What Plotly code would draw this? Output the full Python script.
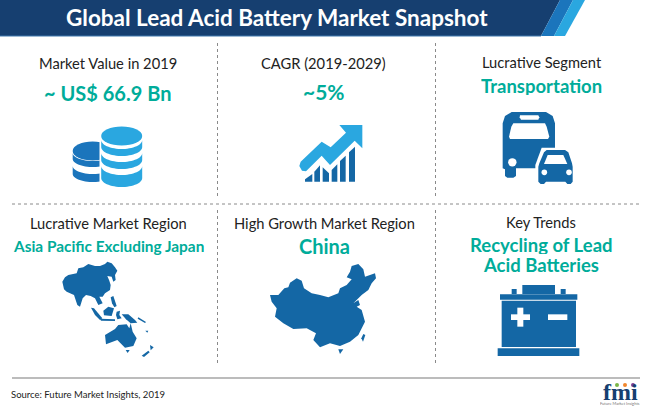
import numpy as np
import plotly.graph_objects as go

title = 'Global Lead Acid Battery Market Snapshot'
headings = ['Market Value in 2019', 'CAGR (2019-2029)', 'Lucrative Segment',
            'Lucrative Market Region', 'High Growth Market Region', 'Key Trends']
values = ['~ US$ 66.9 Bn', '~5%', 'Transportation',
          'Asia Pacific Excluding Japan', 'China', 'Recycling of Lead', 'Acid Batteries']
source = 'Source: Future Market Insights, 2019'

NAVY = '#163f70'
BLUE = '#1467a5'
MID = '#1b75bc'
SKY = '#2aa7e0'
TEAL = '#00ac9a'
TXT = '#222222'
FONT = 'Lato'

fig = go.Figure()
shapes = []
notes = []


def poly(pts, color, ox=0, oy=0, k=1.0, line=None):
    d = 'M' + ' L'.join(f'{ox + x * k:.2f},{oy + y * k:.2f}' for x, y in pts) + ' Z'
    shapes.append(dict(type='path', path=d, fillcolor=color, layer='above',
                       line=dict(width=0) if line is None else line))


def rect(x0, y0, x1, y1, color):
    shapes.append(dict(type='rect', x0=x0, y0=y0, x1=x1, y1=y1, fillcolor=color,
                       line=dict(width=0), layer='above'))


def ellipse(cx, cy, rx, ry, color):
    shapes.append(dict(type='circle', x0=cx - rx, y0=cy - ry, x1=cx + rx, y1=cy + ry,
                       fillcolor=color, line=dict(width=0), layer='above'))


def seg(x0, y0, x1, y1, color, width, dash='solid'):
    shapes.append(dict(type='line', x0=x0, y0=y0, x1=x1, y1=y1, layer='above',
                       line=dict(color=color, width=width, dash=dash)))


def band(cx, rx, ry, top, bottom, color):
    # one slice of a coin stack, curved along top and bottom
    t = np.linspace(0, np.pi, 30)
    low = [(cx + rx * np.cos(a), bottom + ry * np.sin(a)) for a in t]
    up = [(cx - rx * np.cos(a), top + ry * np.sin(a)) for a in t]
    poly(low + up, color)


def text(x, y, s, size, color=TXT, weight=400, anchor='center', family=FONT, height=None):
    notes.append(dict(x=x, y=y, text=s, showarrow=False, xanchor=anchor, yanchor='middle',
                      height=height, borderpad=0,
                      font=dict(family=family, size=size, color=color, weight=weight)))


# header
poly([(0, 0), (560, 0), (541, 36), (0, 36)], NAVY)
poly([(560, 0), (573, 0), (554, 36), (541, 36)], MID)
poly([(573, 0), (585, 0), (565, 36), (554, 36)], SKY)
seg(0, 36, 541, 36, '#3f78ad', 1)
text(277, 17, title, 22.5, 'white', 700)

# separators
dash = '3px,3px'
for x in [217.5, 435.5]:
    seg(x, 43, x, 197, '#8a8a8a', 1, dash)
    seg(x, 210, x, 365, '#8a8a8a', 1, dash)
seg(12, 204, 641, 204, '#8a8a8a', 1, dash)
seg(12, 378, 640, 378, '#7a7a7a', 1.2)

# labels
head_x = [108, 323, 541.5, 108, 324.5, 541]
head_y = [63, 63, 62, 223, 223, 222]
val_x = [107.5, 324, 541, 108, 324, 541, 541]
val_y = [92, 91, 85, 245, 245, 244, 264]
val_size = [20, 21, 18.5, 15.4, 20, 18.5, 18.5]
for i in range(6):
    text(head_x[i], head_y[i], headings[i], 14.7, height=18)
for i in range(7):
    text(val_x[i], val_y[i], values[i], val_size[i], TEAL, 700, height=19)

text(10, 394, source, 9.5, anchor='left')

# coins
ellipse(92.7, 151, 20, 9.5, MID)
band(92.7, 20, 8, 153, 159, MID)
band(92.7, 20, 8, 166, 174, MID)
rect(99.5, 135, 103, 190, 'white')
rect(103, 135, 145, 190, 'white')
ellipse(121.7, 136, 20.5, 9.5, SKY)
band(121.7, 20.5, 9, 140, 147, SKY)
band(121.7, 20.5, 9, 153, 160, SKY)
band(121.7, 20.5, 9, 166, 178, SKY)

# growth chart
ox, oy = 280, 110
bars = [[(75, 215), (75, 208), (97, 192), (97, 215)],
        [(103, 215), (103, 185), (120, 166), (120, 215)],
        [(128, 215), (128, 172), (147, 190), (147, 215)],
        [(155, 215), (155, 180), (172, 163), (172, 215)],
        [(180, 215), (180, 153), (197, 137), (197, 215)],
        [(207, 215), (207, 127), (225, 110), (225, 215)]]
for b in bars:
    poly(b, BLUE, ox, oy, 1 / 3)
poly([(247, 45), (178, 45), (198, 68), (152, 112), (125, 95), (62, 155), (58, 168), (66, 182),
      (78, 184), (125, 137), (150, 165), (224, 92), (247, 115)], SKY, ox, oy, 1 / 3)

# bus
ox, oy = 480, 100
k = 1 / 3
poly([(68, 205), (68, 70), (75, 48), (95, 36), (198, 36), (218, 48), (225, 70), (225, 205),
      (140, 205), (108, 205), (108, 228), (100, 233), (82, 233), (75, 228), (75, 208)], BLUE, ox, oy, k)
poly([(120, 46), (175, 46), (178, 52), (175, 59), (123, 59), (119, 52)], 'white', ox, oy, k)
poly([(100, 70), (195, 70), (200, 80), (208, 110), (204, 117), (90, 117), (87, 110), (94, 80)], 'white', ox, oy, k)
ellipse(480 + 97 * k, 100 + 187 * k, 4.2, 4.2, 'white')
poly([(166, 262), (166, 195), (185, 143), (265, 143), (290, 195), (290, 262)], 'white', ox, oy, k)
poly([(175, 245), (175, 200), (178, 190), (192, 157), (200, 150), (255, 150), (265, 157), (276, 190),
      (278, 200), (278, 245), (272, 252), (262, 252), (256, 245), (198, 245), (192, 252), (182, 252)], BLUE, ox, oy, k)
poly([(203, 165), (250, 165), (262, 192), (192, 192)], 'white', ox, oy, k)
ellipse(480 + 193 * k, 100 + 217 * k, 2.8, 2.8, 'white')
ellipse(480 + 267 * k, 100 + 217 * k, 2.8, 2.8, 'white')

# asia pacific map
ox, oy = 20, 260
regions = [
    [(127, 65), (135, 52), (145, 45), (170, 40), (175, 25), (190, 22), (205, 12), (225, 18), (240, 18), (255, 12),
     (262, 5), (275, 10), (285, 22), (292, 32), (285, 45), (287, 60), (280, 65), (275, 50), (262, 48), (268, 62),
     (272, 75), (270, 90), (255, 100), (248, 110), (238, 110), (248, 130), (235, 135), (225, 115), (212, 108),
     (198, 105), (188, 115), (180, 140), (172, 135), (162, 105), (140, 95), (132, 88)],
    [(272, 112), (280, 108), (290, 138), (283, 142), (276, 130)],
    [(213, 143), (222, 145), (247, 175), (240, 180), (225, 165)],
    [(240, 176), (285, 178), (285, 183), (243, 182)],
    [(250, 152), (265, 140), (282, 145), (275, 168), (252, 166)],
    [(290, 155), (300, 152), (298, 165), (305, 175), (292, 178), (288, 165)],
    [(305, 163), (325, 163), (345, 180), (352, 188), (332, 190), (318, 178)],
    [(255, 225), (285, 207), (295, 195), (320, 193), (328, 205), (332, 190), (338, 215), (350, 235),
     (340, 258), (315, 263), (292, 240), (258, 253)],
    [(317, 270), (329, 270), (323, 279)],
    [(365, 287), (385, 272), (389, 277), (372, 291)],
    [(390, 255), (401, 262), (392, 271)],
    [(376, 212), (385, 212), (382, 218)],
    [(355, 172), (378, 186), (375, 189), (353, 176)],
]
for r in regions:
    poly(r, BLUE, ox, oy, 1 / 3)

# china map
ox, oy = 250, 260
poly([(60, 105), (85, 105), (103, 85), (115, 82), (120, 68), (140, 55), (155, 62), (162, 85), (185, 100),
      (210, 105), (235, 112), (265, 100), (270, 85), (290, 75), (305, 58), (290, 52), (300, 35), (305, 18),
      (325, 12), (340, 28), (345, 50), (375, 40), (378, 55), (365, 70), (355, 90), (335, 105), (310, 130),
      (325, 120), (330, 135), (320, 140), (335, 150), (345, 185), (325, 225), (300, 245), (270, 258),
      (240, 250), (210, 262), (190, 240), (198, 220), (170, 205), (130, 207), (100, 190), (75, 170),
      (80, 145), (65, 125)], BLUE, ox, oy, 1 / 3)
poly([(265, 268), (280, 268), (270, 282)], BLUE, ox, oy, 1 / 3)
poly([(340, 222), (346, 225), (339, 245), (334, 235)], BLUE, ox, oy, 1 / 3)

# battery
ox, oy = 460, 270
k = 1 / 3
rect(ox + 187 * k, oy + 45 * k, ox + 285 * k, oy + 72 * k, BLUE)
rect(ox + 155 * k, oy + 57 * k, ox + 170 * k, oy + 72 * k, BLUE)
rect(ox + 302 * k, oy + 57 * k, ox + 317 * k, oy + 72 * k, BLUE)
rect(ox + 120 * k, oy + 73 * k, ox + 352 * k, oy + 89 * k, BLUE)
rect(ox + 125 * k, oy + 92 * k, ox + 348 * k, oy + 231 * k, BLUE)
rect(ox + 113 * k, oy + 235 * k, ox + 358 * k, oy + 258 * k, BLUE)
rect(ox + 153 * k, oy + 133 * k, ox + 210 * k, oy + 150 * k, 'white')
rect(ox + 172 * k, oy + 113 * k, ox + 190 * k, oy + 170 * k, 'white')
rect(ox + 264 * k, oy + 133 * k, ox + 322 * k, oy + 150 * k, 'white')

# fmi logo
text(620, 392, 'fmi', 24, NAVY, 700, family='Liberation Serif', height=16)
ellipse(617, 385, 2, 2, '#7ab648')
ellipse(625, 385, 2, 2, '#f0862c')
ellipse(633, 385, 2, 2, '#7a3b94')
text(620, 403, 'Future Market Insights', 4, '#777777', height=5)

fig.update_layout(
    width=650, height=409, autosize=False,
    margin=dict(l=0, r=0, t=0, b=0),
    paper_bgcolor='white', plot_bgcolor='white',
    showlegend=False,
    xaxis=dict(range=[0, 650], visible=False, fixedrange=True),
    yaxis=dict(range=[409, 0], visible=False, fixedrange=True),
    shapes=shapes, annotations=notes,
)

fig.write_html("out.html", config=dict(displayModeBar=False),
               post_script="document.body.style.margin='0';")
